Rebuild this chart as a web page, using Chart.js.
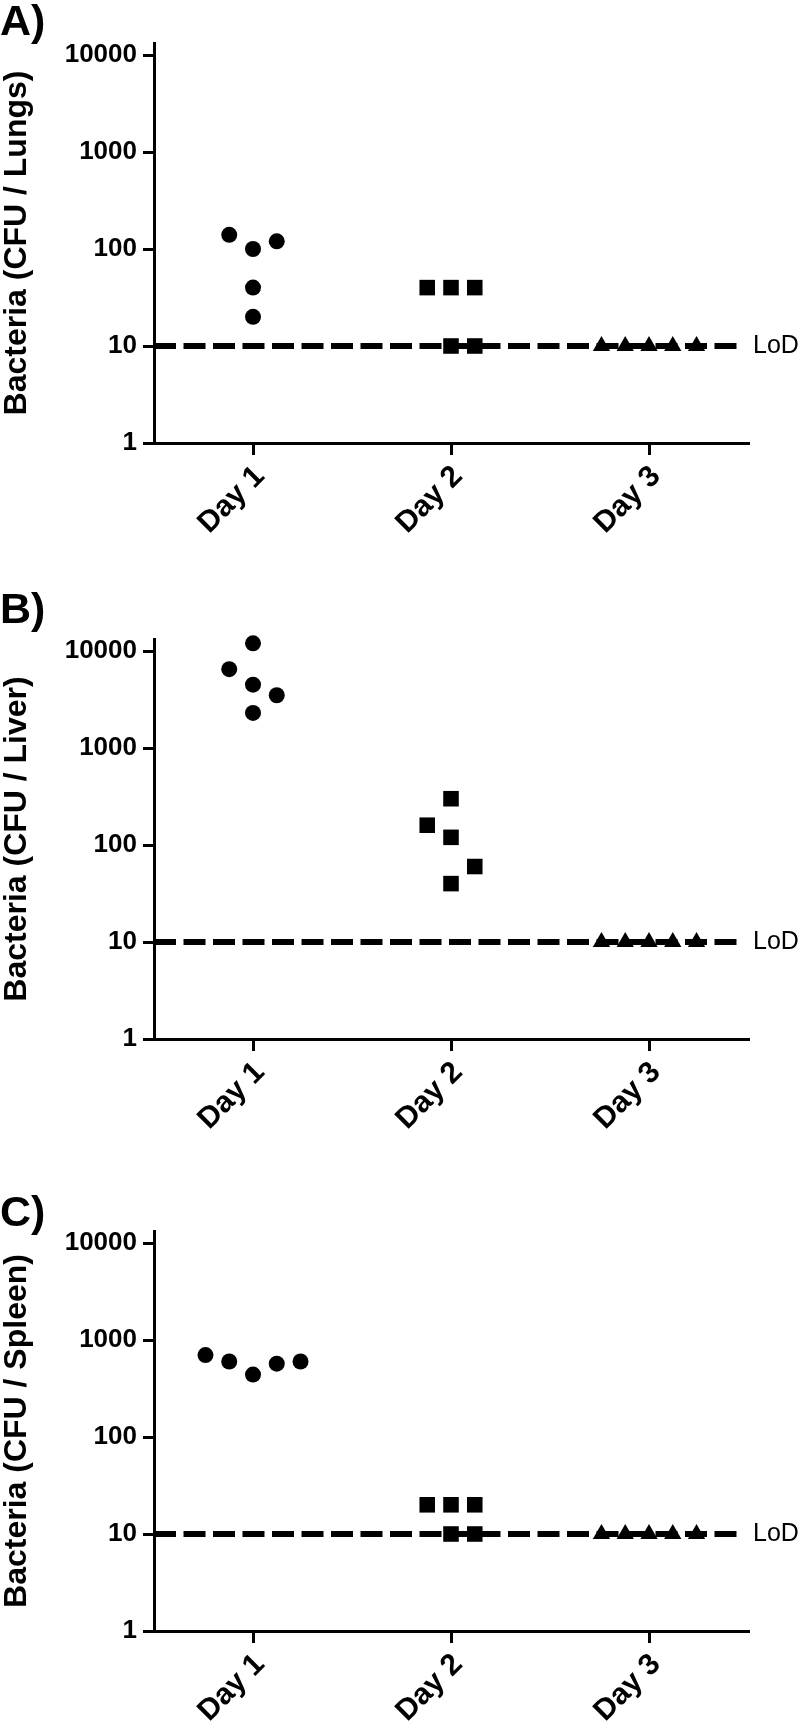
<!DOCTYPE html>
<html>
<head>
<meta charset="utf-8">
<script src="https://cdn.jsdelivr.net/npm/chart.js@4.4.1/dist/chart.umd.min.js"></script>
<style>
  html, body { margin: 0; padding: 0; background: #fff; }
  #page { position: relative; width: 800px; height: 1727px; overflow: hidden; }
  .panel { position: absolute; left: 0; width: 800px; }
  .panel canvas { display: block; }
  .tag { position: absolute; left: 0; font: bold 43px 'Liberation Sans', Arial, sans-serif; line-height: 1; color: #000; }
</style>
</head>
<body>
<div id="page">
  <div class="panel" style="top:0px"><canvas id="chartA" width="800" height="596"></canvas></div>
  <div class="panel" style="top:596px"><canvas id="chartB" width="800" height="592"></canvas></div>
  <div class="panel" style="top:1188px"><canvas id="chartC" width="800" height="539"></canvas></div>
  <div class="tag" style="top:-1px">A)</div>
  <div class="tag" style="top:587px">B)</div>
  <div class="tag" style="top:1190px">C)</div>
</div>
<script>
// 공통 축 값
const DAYS = ['Day 1', 'Day 2', 'Day 3'];
const DAY_POS = [1, 2, 3];
const Y_TICKS = [1, 10, 100, 1000, 10000];
const Y_MAX = 13300;
const LOD = 10;
const LOD_LINE_END = 3.46;
const JITTER_STEP = 0.12;

// A) 폐 (Lungs)
const lungsDay1 = [140, 100, 120, 40, 20];
const lungsDay1Jit = [-1, 0, 1, 0, 0];
const lungsDay2 = [40, 40, 40, 10, 10];
const lungsDay2Jit = [-1, 0, 1, 0, 1];
const lungsDay3 = [10, 10, 10, 10, 10];
const lungsDay3Jit = [-2, -1, 0, 1, 2];

// B) 간 (Liver)
const liverDay1 = [12000, 6500, 4500, 3500, 2300];
const liverDay1Jit = [0, -1, 0, 1, 0];
const liverDay2 = [300, 160, 120, 60, 40];
const liverDay2Jit = [0, -1, 0, 1, 0];
const liverDay3 = [10, 10, 10, 10, 10];
const liverDay3Jit = [-2, -1, 0, 1, 2];

// C) 비장 (Spleen)
const spleenDay1 = [700, 600, 440, 570, 600];
const spleenDay1Jit = [-2, -1, 0, 1, 2];
const spleenDay2 = [20, 20, 20, 10, 10];
const spleenDay2Jit = [-1, 0, 1, 0, 1];
const spleenDay3 = [10, 10, 10, 10, 10];
const spleenDay3Jit = [-2, -1, 0, 1, 2];

Chart.defaults.font.family = "'Liberation Sans', Arial, sans-serif";
Chart.defaults.color = '#000';

// LoD 라벨
const lodLabel = {
    id: 'lodLabel',
    afterDatasetsDraw(chart) {
        const { ctx, chartArea, scales } = chart;
        ctx.save();
        ctx.font = "25px 'Liberation Sans', Arial, sans-serif";
        ctx.fillStyle = '#000';
        ctx.textAlign = 'left';
        ctx.textBaseline = 'middle';
        ctx.fillText('LoD', chartArea.right + 5, scales.y.getPixelForValue(LOD));
        ctx.restore();
    }
};

function toPoints(day, values, jitter) {
    return values.map((v, i) => ({ x: day + jitter[i] * JITTER_STEP, y: v }));
}

function markerSet(data, style, radius) {
    return {
        data: data,
        pointStyle: style,
        pointRadius: radius,
        pointHoverRadius: radius,
        pointBackgroundColor: '#000',
        pointBorderWidth: 0,
        showLine: false,
        clip: false,
        order: 0
    };
}

function makeChart(id, title, day1, jit1, day2, jit2, day3, jit3) {
    const canvas = document.getElementById(id);
    const axisBottom = 443;
    const tickGrid = (len) => ({
        drawOnChartArea: false,
        drawTicks: true,
        tickLength: len,
        lineWidth: 3,
        color: '#000'
    });
    const border = { display: true, width: 3, color: '#000' };

    return new Chart(canvas.getContext('2d'), {
        type: 'scatter',
        data: {
            datasets: [
                markerSet(toPoints(DAY_POS[0], day1, jit1), 'circle', 8),
                markerSet(toPoints(DAY_POS[1], day2, jit2), 'rect', 11),
                markerSet(toPoints(DAY_POS[2], day3, jit3), 'triangle', 10),
                {
                    data: [{ x: 0.5, y: LOD }, { x: LOD_LINE_END, y: LOD }],
                    showLine: true,
                    borderColor: '#000',
                    borderWidth: 6,
                    borderDash: [22, 7.5],
                    borderCapStyle: 'butt',
                    pointRadius: 0,
                    clip: false,
                    order: 10
                }
            ]
        },
        options: {
            responsive: false,
            animation: false,
            layout: { padding: { top: 43, right: 52, left: 0, bottom: 0 } },
            plugins: { legend: { display: false }, tooltip: { enabled: false } },
            scales: {
                x: {
                    type: 'linear',
                    min: 0.5,
                    max: 3.5,
                    afterBuildTicks: s => { s.ticks = DAY_POS.map(v => ({ value: v })); },
                    afterFit: s => { s.height = canvas.height - axisBottom; },
                    ticks: {
                        callback: (v, i) => DAYS[i],
                        minRotation: 45,
                        maxRotation: 45,
                        autoSkip: false,
                        padding: 4,
                        labelOffset: 7,
                        color: '#000',
                        font: { size: 30, weight: 'bold' }
                    },
                    grid: tickGrid(12),
                    border: border
                },
                y: {
                    type: 'logarithmic',
                    min: 1,
                    max: Y_MAX,
                    afterBuildTicks: s => { s.ticks = Y_TICKS.map(v => ({ value: v })); },
                    afterFit: s => { s.width = 154; },
                    ticks: {
                        callback: v => String(v),
                        autoSkip: false,
                        padding: 6,
                        color: '#000',
                        font: { size: 26, weight: 'bold' }
                    },
                    grid: tickGrid(11),
                    border: border,
                    title: {
                        display: true,
                        text: title,
                        color: '#000',
                        padding: { top: 0, bottom: 0 },
                        font: { size: 32, weight: 'bold', lineHeight: 1.05 }
                    }
                }
            }
        },
        plugins: [lodLabel]
    });
}

makeChart('chartA', 'Bacteria (CFU / Lungs)', lungsDay1, lungsDay1Jit, lungsDay2, lungsDay2Jit, lungsDay3, lungsDay3Jit);
makeChart('chartB', 'Bacteria (CFU / Liver)', liverDay1, liverDay1Jit, liverDay2, liverDay2Jit, liverDay3, liverDay3Jit);
makeChart('chartC', 'Bacteria (CFU / Spleen)', spleenDay1, spleenDay1Jit, spleenDay2, spleenDay2Jit, spleenDay3, spleenDay3Jit);
</script>
</body>
</html>
